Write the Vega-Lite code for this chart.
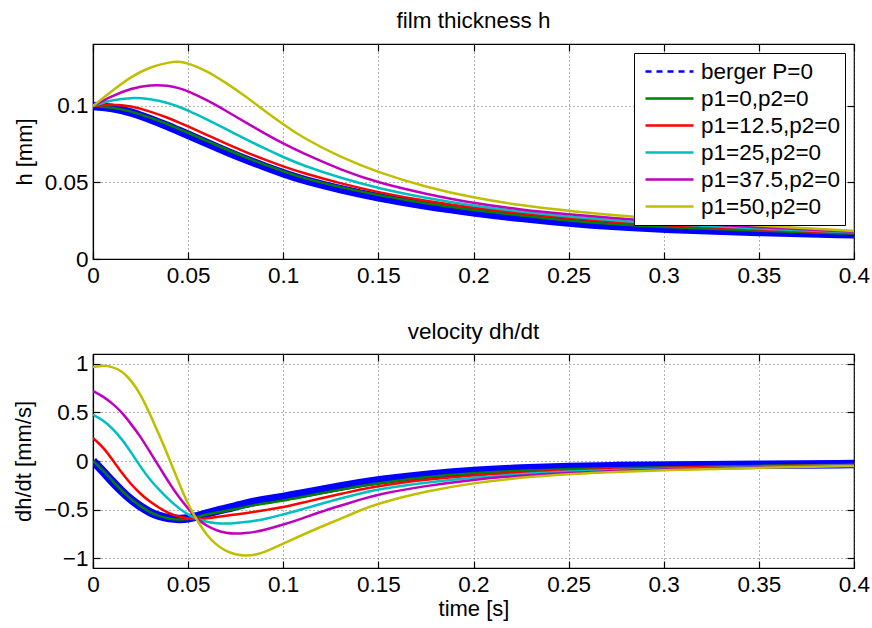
{
  "$schema": "https://vega.github.io/schema/vega-lite/v6.json",
  "background": "white",
  "padding": {"left": 11, "top": 9, "right": 5, "bottom": 5},
  "spacing": 32,
  "config": {
    "font": "Liberation Sans",
    "view": {"stroke": "#000", "strokeWidth": 1.2},
    "axis": {
      "domainColor": "#000", "domainWidth": 1.2,
      "tickColor": "#000", "tickSize": -7, "tickWidth": 1.2,
      "labelPadding": 12, "labelFontSize": 22.5, "labelColor": "#000", "labelFont": "Liberation Sans",
      "titleFontSize": 22, "titleFontWeight": "normal", "titleColor": "#000", "titleFont": "Liberation Sans",
      "grid": true, "gridColor": "#555", "gridDash": [1, 3], "gridWidth": 1, "gridOpacity": 0.9,
      "labelFlush": false, "labelOverlap": false
    },
    "axisY": {"titlePadding": 8},
    "axisX": {"titlePadding": 3},
    "title": {"fontSize": 22.5, "fontWeight": "normal", "font": "Liberation Sans", "color": "#000", "offset": 11, "anchor": "middle"}
  },
  "resolve": {"scale": {"color": "independent"}},
  "datasets": {
    "h": [
      {"t": 0, "B": 0.1, "P0": 0.1, "P12": 0.1, "P25": 0.1, "P37": 0.1, "P50": 0.1},
      {"t": 0.01, "B": 0.099, "P0": 0.0992, "P12": 0.1012, "P25": 0.104, "P37": 0.1066, "P50": 0.1098},
      {"t": 0.02, "B": 0.096, "P0": 0.0965, "P12": 0.1, "P25": 0.1055, "P37": 0.1115, "P50": 0.1192},
      {"t": 0.03, "B": 0.0915, "P0": 0.0925, "P12": 0.0965, "P25": 0.1047, "P37": 0.1139, "P50": 0.1255},
      {"t": 0.04, "B": 0.0865, "P0": 0.0877, "P12": 0.092, "P25": 0.1018, "P37": 0.1134, "P50": 0.1286},
      {"t": 0.045, "B": 0.0838, "P0": 0.0851, "P12": 0.0893, "P25": 0.0995, "P37": 0.1117, "P50": 0.1291},
      {"t": 0.05, "B": 0.0812, "P0": 0.0825, "P12": 0.0866, "P25": 0.0971, "P37": 0.1097, "P50": 0.128},
      {"t": 0.06, "B": 0.0757, "P0": 0.077, "P12": 0.081, "P25": 0.0912, "P37": 0.1038, "P50": 0.123},
      {"t": 0.07, "B": 0.0703, "P0": 0.0717, "P12": 0.0753, "P25": 0.0849, "P37": 0.0968, "P50": 0.115},
      {"t": 0.08, "B": 0.0652, "P0": 0.0665, "P12": 0.07, "P25": 0.0785, "P37": 0.0894, "P50": 0.1065},
      {"t": 0.09, "B": 0.0605, "P0": 0.0618, "P12": 0.065, "P25": 0.0723, "P37": 0.0822, "P50": 0.097},
      {"t": 0.1, "B": 0.056, "P0": 0.0572, "P12": 0.0605, "P25": 0.0666, "P37": 0.0754, "P50": 0.088},
      {"t": 0.11, "B": 0.0518, "P0": 0.053, "P12": 0.0563, "P25": 0.0613, "P37": 0.0693, "P50": 0.0795},
      {"t": 0.13, "B": 0.0455, "P0": 0.0468, "P12": 0.0494, "P25": 0.053, "P37": 0.0584, "P50": 0.0665},
      {"t": 0.15, "B": 0.0402, "P0": 0.0416, "P12": 0.0435, "P25": 0.0462, "P37": 0.0497, "P50": 0.0565},
      {"t": 0.175, "B": 0.0348, "P0": 0.0362, "P12": 0.0378, "P25": 0.0398, "P37": 0.0425, "P50": 0.047},
      {"t": 0.2, "B": 0.0305, "P0": 0.032, "P12": 0.0336, "P25": 0.0348, "P37": 0.0364, "P50": 0.04},
      {"t": 0.225, "B": 0.0268, "P0": 0.0283, "P12": 0.0298, "P25": 0.0309, "P37": 0.0322, "P50": 0.035},
      {"t": 0.25, "B": 0.0237, "P0": 0.025, "P12": 0.0266, "P25": 0.0277, "P37": 0.0292, "P50": 0.0314},
      {"t": 0.275, "B": 0.0214, "P0": 0.0226, "P12": 0.0241, "P25": 0.025, "P37": 0.0265, "P50": 0.0285},
      {"t": 0.3, "B": 0.0197, "P0": 0.0208, "P12": 0.0221, "P25": 0.0229, "P37": 0.0242, "P50": 0.026},
      {"t": 0.35, "B": 0.0176, "P0": 0.0184, "P12": 0.0193, "P25": 0.0198, "P37": 0.0207, "P50": 0.0218},
      {"t": 0.4, "B": 0.0161, "P0": 0.0166, "P12": 0.017, "P25": 0.0174, "P37": 0.0178, "P50": 0.0183}
    ],
    "v": [
      {"t": 0, "B": 0, "P0": 0, "P12": 0.235, "P25": 0.476, "P37": 0.72, "P50": 0.965},
      {"t": 0.005, "B": -0.1, "P0": -0.09, "P12": 0.15, "P25": 0.425, "P37": 0.668, "P50": 0.983},
      {"t": 0.01, "B": -0.21, "P0": -0.2, "P12": 0.02, "P25": 0.34, "P37": 0.595, "P50": 0.97},
      {"t": 0.015, "B": -0.31, "P0": -0.305, "P12": -0.12, "P25": 0.23, "P37": 0.505, "P50": 0.93},
      {"t": 0.02, "B": -0.4, "P0": -0.395, "P12": -0.24, "P25": 0.09, "P37": 0.38, "P50": 0.83},
      {"t": 0.025, "B": -0.47, "P0": -0.465, "P12": -0.34, "P25": -0.06, "P37": 0.25, "P50": 0.69},
      {"t": 0.03, "B": -0.53, "P0": -0.53, "P12": -0.42, "P25": -0.195, "P37": 0.09, "P50": 0.48},
      {"t": 0.035, "B": -0.568, "P0": -0.57, "P12": -0.485, "P25": -0.3, "P37": -0.065, "P50": 0.26},
      {"t": 0.04, "B": -0.59, "P0": -0.593, "P12": -0.54, "P25": -0.4, "P37": -0.225, "P50": 0.03},
      {"t": 0.045, "B": -0.598, "P0": -0.603, "P12": -0.573, "P25": -0.485, "P37": -0.37, "P50": -0.22},
      {"t": 0.05, "B": -0.593, "P0": -0.602, "P12": -0.593, "P25": -0.552, "P37": -0.49, "P50": -0.45},
      {"t": 0.055, "B": -0.565, "P0": -0.575, "P12": -0.597, "P25": -0.6, "P37": -0.6, "P50": -0.62},
      {"t": 0.06, "B": -0.54, "P0": -0.55, "P12": -0.59, "P25": -0.627, "P37": -0.67, "P50": -0.77},
      {"t": 0.065, "B": -0.51, "P0": -0.53, "P12": -0.575, "P25": -0.642, "P37": -0.715, "P50": -0.865},
      {"t": 0.07, "B": -0.49, "P0": -0.512, "P12": -0.562, "P25": -0.645, "P37": -0.74, "P50": -0.93},
      {"t": 0.075, "B": -0.465, "P0": -0.493, "P12": -0.55, "P25": -0.638, "P37": -0.749, "P50": -0.962},
      {"t": 0.08, "B": -0.44, "P0": -0.473, "P12": -0.537, "P25": -0.628, "P37": -0.742, "P50": -0.975},
      {"t": 0.085, "B": -0.418, "P0": -0.453, "P12": -0.522, "P25": -0.615, "P37": -0.73, "P50": -0.968},
      {"t": 0.09, "B": -0.4, "P0": -0.437, "P12": -0.506, "P25": -0.598, "P37": -0.71, "P50": -0.94},
      {"t": 0.1, "B": -0.37, "P0": -0.408, "P12": -0.475, "P25": -0.55, "P37": -0.655, "P50": -0.85},
      {"t": 0.11, "B": -0.335, "P0": -0.37, "P12": -0.43, "P25": -0.495, "P37": -0.59, "P50": -0.76},
      {"t": 0.12, "B": -0.298, "P0": -0.332, "P12": -0.383, "P25": -0.44, "P37": -0.52, "P50": -0.675},
      {"t": 0.13, "B": -0.262, "P0": -0.295, "P12": -0.34, "P25": -0.385, "P37": -0.46, "P50": -0.595},
      {"t": 0.14, "B": -0.228, "P0": -0.26, "P12": -0.295, "P25": -0.335, "P37": -0.4, "P50": -0.51},
      {"t": 0.15, "B": -0.198, "P0": -0.228, "P12": -0.255, "P25": -0.29, "P37": -0.34, "P50": -0.435},
      {"t": 0.175, "B": -0.14, "P0": -0.165, "P12": -0.19, "P25": -0.22, "P37": -0.255, "P50": -0.31},
      {"t": 0.2, "B": -0.1, "P0": -0.121, "P12": -0.145, "P25": -0.17, "P37": -0.19, "P50": -0.225},
      {"t": 0.225, "B": -0.077, "P0": -0.099, "P12": -0.118, "P25": -0.135, "P37": -0.15, "P50": -0.17},
      {"t": 0.25, "B": -0.062, "P0": -0.083, "P12": -0.097, "P25": -0.107, "P37": -0.121, "P50": -0.135},
      {"t": 0.275, "B": -0.052, "P0": -0.073, "P12": -0.082, "P25": -0.092, "P37": -0.102, "P50": -0.112},
      {"t": 0.3, "B": -0.045, "P0": -0.065, "P12": -0.07, "P25": -0.08, "P37": -0.087, "P50": -0.095},
      {"t": 0.35, "B": -0.038, "P0": -0.05, "P12": -0.054, "P25": -0.06, "P37": -0.065, "P50": -0.07},
      {"t": 0.4, "B": -0.032, "P0": -0.038, "P12": -0.042, "P25": -0.045, "P37": -0.048, "P50": -0.052}
    ]
  },
  "vconcat": [
    {
      "title": "film thickness h",
      "width": 761,
      "height": 215,
      "data": {"name": "h"},
      "transform": [{"fold": ["B", "P0", "P12", "P25", "P37", "P50"], "as": ["s", "val"]}],
      "resolve": {"axis": {"x": "independent", "y": "independent"}},
      "layer": [
        {
          "mark": {"type": "line", "interpolate": "basis", "strokeJoin": "round", "clip": true},
          "encoding": {
            "x": {"field": "t", "type": "quantitative", "scale": {"domain": [0, 0.4], "nice": false},
                  "axis": {"values": [0, 0.05, 0.1, 0.15, 0.2, 0.25, 0.3, 0.35, 0.4], "format": "~g", "title": null}},
            "y": {"field": "val", "type": "quantitative", "scale": {"domain": [0, 0.1405], "nice": false},
                  "axis": {"values": [0, 0.05, 0.1], "format": "~g", "title": "h [mm]"}},
            "color": {"field": "s", "type": "nominal",
                      "scale": {"domain": ["B", "P0", "P12", "P25", "P37", "P50"], "range": ["#0000ff", "#008000", "#ff0000", "#00bfbf", "#bf00bf", "#bfbf00"]},
                      "legend": {
                        "title": null, "orient": "top-right", "offset": 9,
                        "fillColor": "white", "strokeColor": "black", "padding": 5,
                        "symbolType": "stroke", "symbolSize": 2304, "symbolStrokeWidth": 2.5,
                        "clipHeight": 27, "rowPadding": 0, "symbolOffset": 5, "labelOffset": 6,
                        "labelFontSize": 22.5, "labelColor": "#000", "labelLimit": 300,
                        "labelExpr": "datum.value === 'B' ? 'berger P=0' : datum.value === 'P0' ? 'p1=0,p2=0' : datum.value === 'P12' ? 'p1=12.5,p2=0' : datum.value === 'P25' ? 'p1=25,p2=0' : datum.value === 'P37' ? 'p1=37.5,p2=0' : 'p1=50,p2=0'",
                        "encode": {"symbols": {"update": {"strokeDash": {"signal": "datum.value === 'B' ? [6, 5] : [1, 0]"}, "strokeWidth": {"value": 2.5}}}}
                      }},
            "strokeWidth": {"condition": {"test": "datum.s === 'B'", "value": 8.5}, "value": 2.5}
          }
        },
        {
          "mark": {"type": "line", "opacity": 0},
          "encoding": {
            "x": {"field": "t", "type": "quantitative", "scale": {"domain": [0, 0.4], "nice": false},
                  "axis": {"orient": "top", "values": [0, 0.05, 0.1, 0.15, 0.2, 0.25, 0.3, 0.35, 0.4], "labels": false, "grid": false, "domain": false, "title": null}},
            "y": {"field": "val", "type": "quantitative", "scale": {"domain": [0, 0.1405], "nice": false},
                  "axis": {"orient": "right", "values": [0, 0.05, 0.1], "labels": false, "grid": false, "domain": false, "title": null}}
          }
        }
      ]
    },
    {
      "title": {"text": "velocity dh/dt", "offset": 9},
      "width": 761,
      "height": 214,
      "data": {"name": "v"},
      "transform": [{"fold": ["B", "P0", "P12", "P25", "P37", "P50"], "as": ["s", "val"]}],
      "resolve": {"axis": {"x": "independent", "y": "independent"}},
      "layer": [
        {
          "mark": {"type": "line", "interpolate": "basis", "strokeJoin": "round", "clip": true},
          "encoding": {
            "x": {"field": "t", "type": "quantitative", "scale": {"domain": [0, 0.4], "nice": false},
                  "axis": {"values": [0, 0.05, 0.1, 0.15, 0.2, 0.25, 0.3, 0.35, 0.4], "format": "~g", "title": "time [s]"}},
            "y": {"field": "val", "type": "quantitative", "scale": {"domain": [-1.1, 1.1], "nice": false},
                  "axis": {"values": [-1, -0.5, 0, 0.5, 1], "format": "~g", "title": "dh/dt [mm/s]"}},
            "color": {"field": "s", "type": "nominal",
                      "scale": {"domain": ["B", "P0", "P12", "P25", "P37", "P50"], "range": ["#0000ff", "#008000", "#ff0000", "#00bfbf", "#bf00bf", "#bfbf00"]},
                      "legend": null},
            "strokeWidth": {"condition": {"test": "datum.s === 'B'", "value": 8.5}, "value": 2.5}
          }
        },
        {
          "mark": {"type": "line", "opacity": 0},
          "encoding": {
            "x": {"field": "t", "type": "quantitative", "scale": {"domain": [0, 0.4], "nice": false},
                  "axis": {"orient": "top", "values": [0, 0.05, 0.1, 0.15, 0.2, 0.25, 0.3, 0.35, 0.4], "labels": false, "grid": false, "domain": false, "title": null}},
            "y": {"field": "val", "type": "quantitative", "scale": {"domain": [-1.1, 1.1], "nice": false},
                  "axis": {"orient": "right", "values": [-1, -0.5, 0, 0.5, 1], "labels": false, "grid": false, "domain": false, "title": null}}
          }
        }
      ]
    }
  ]
}
